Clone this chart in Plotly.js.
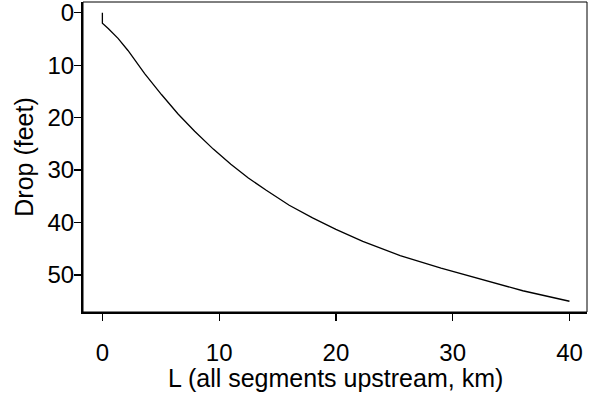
<!DOCTYPE html>
<html>
<head>
<meta charset="utf-8">
<script src="https://cdn.plot.ly/plotly-3.0.1.min.js"></script>
<style>html,body{margin:0;padding:0;background:#fff;}#chart{width:593px;height:396px;}</style>
</head>
<body>
<div id="chart"></div>
<script>
// L (all segments upstream, km)
var lengthKm = [0, 0, 0.5, 1.34, 2.19, 3.62, 5.06, 6.48, 7.9, 9.5, 11.0, 12.5, 14.0, 16.0, 18.0, 20.0, 22.3, 25.5, 29.0, 32.0, 36.0, 40.0];
// Drop (feet)
var dropFeet = [0, 2.0, 3.0, 4.9, 7.2, 11.6, 15.6, 19.3, 22.6, 26.0, 28.9, 31.5, 33.8, 36.7, 39.1, 41.3, 43.6, 46.3, 48.7, 50.6, 53.0, 55.0];
var xTicks = [0, 10, 20, 30, 40];
var yTicks = [0, 10, 20, 30, 40, 50];
var xTitle = "L (all segments upstream, km)";
var yTitle = "Drop (feet)";

var font = "Liberation Sans, Arial, Helvetica, sans-serif";
var fs = 24;

var trace = {
  x: lengthKm,
  y: dropFeet,
  type: "scatter",
  mode: "lines",
  line: {color: "#000", width: 1.3},
  hoverinfo: "none"
};

var layout = {
  width: 593,
  height: 396,
  margin: {l: 83, r: 6, t: 2, b: 84},
  paper_bgcolor: "#fff",
  plot_bgcolor: "#fff",
  showlegend: false,
  font: {family: font, color: "#000", size: fs},
  xaxis: {
    range: [-1.66, 41.5],
    tickvals: xTicks,
    ticktext: xTicks.map(String),
    ticks: "outside",
    ticklen: 7,
    tickwidth: 1.2,
    tickcolor: "#000",
    ticklabelstandoff: 11,
    ticklabeloverflow: "allow",
    showgrid: false,
    zeroline: false,
    showline: true,
    linecolor: "#000",
    linewidth: 2,
    tickfont: {family: font, size: fs, color: "#000"}
  },
  yaxis: {
    range: [57.05, -2.04],
    tickvals: yTicks,
    ticktext: yTicks.map(String),
    ticks: "outside",
    ticklen: 7,
    tickwidth: 1.2,
    tickcolor: "#000",
    ticklabelstandoff: -5,
    ticklabeloverflow: "allow",
    showgrid: false,
    zeroline: false,
    showline: true,
    linecolor: "#000",
    linewidth: 2,
    tickfont: {family: font, size: fs, color: "#000"},
    title: {text: yTitle, font: {family: font, size: 25, color: "#000"}, standoff: 7}
  },
  annotations: [{
    text: xTitle, xref: "paper", yref: "paper", x: 0.5, y: 0,
    xanchor: "center", yanchor: "middle", yshift: -66, showarrow: false,
    font: {family: font, size: 25, color: "#000"}
  }],
  shapes: [{
    type: "rect", xref: "paper", yref: "paper", x0: 0, x1: 1, y0: 0, y1: 1,
    line: {color: "#000", width: 1}, fillcolor: "rgba(0,0,0,0)", layer: "above"
  }]
};

Plotly.newPlot("chart", [trace], layout, {staticPlot: true, displayModeBar: false});
</script>
</body>
</html>
